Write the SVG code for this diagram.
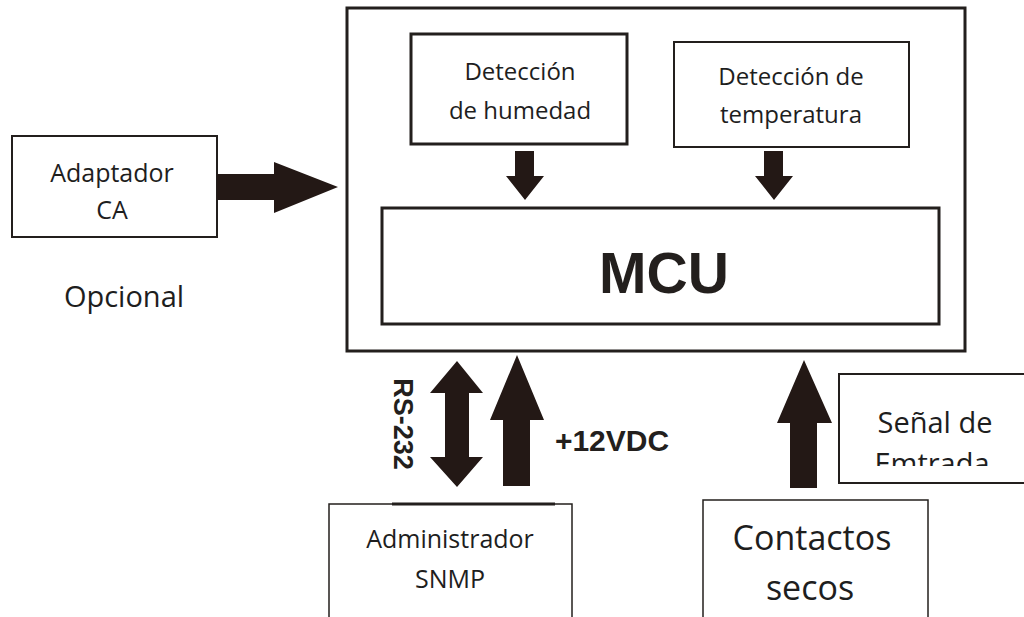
<svg xmlns="http://www.w3.org/2000/svg" width="1024" height="617" viewBox="0 0 1024 617">
<defs>
<style>
.box{fill:#fff;stroke:#231f1d;stroke-width:2}
.t{font-family:"Open Sans","DejaVu Sans",sans-serif;fill:#1e1e1e;text-anchor:middle}
.b{font-family:"Liberation Sans",Arial,sans-serif;font-weight:bold;fill:#231f1d;text-anchor:middle}
.arr{fill:#231815}
</style>
<clipPath id="clipEm"><rect x="830" y="370" width="200" height="96"/></clipPath>
</defs>
<rect width="1024" height="617" fill="#fff"/>

<g id="outer">
<rect x="347" y="8" width="618" height="343" class="box" style="stroke-width:3"/>
</g>

<g id="humedad">
<rect x="411" y="34" width="216" height="110" class="box" style="stroke-width:3"/>
<text class="t" x="520" y="80" font-size="24">Detección</text>
<text class="t" x="520" y="119" font-size="24">de humedad</text>
</g>

<g id="temperatura">
<rect x="674" y="42" width="235" height="105" class="box"/>
<text class="t" x="791" y="85" font-size="24">Detección de</text>
<text class="t" x="791" y="123" font-size="24">temperatura</text>
</g>

<g id="mcu">
<rect x="382" y="208" width="557" height="116" class="box" style="stroke-width:3"/>
<text class="b" x="664" y="293" font-size="57">MCU</text>
</g>

<g id="adaptador">
<rect x="12" y="136" width="205" height="101" class="box"/>
<text class="t" x="112" y="182" font-size="25">Adaptador</text>
<text class="t" x="112" y="219" font-size="25">CA</text>
</g>

<g id="opcional">
<text class="t" x="124" y="307" font-size="29">Opcional</text>
</g>

<g id="snmp">
<rect x="329" y="504" width="243" height="130" class="box" style="stroke-width:1.5"/>
<line x1="392" y1="504" x2="555" y2="504" stroke="#231f1d" stroke-width="3"/>
<text class="t" x="450" y="548" font-size="25">Administrador</text>
<text class="t" x="450" y="588" font-size="25">SNMP</text>
</g>

<g id="contactos">
<rect x="703" y="500" width="225" height="130" class="box" style="stroke-width:1.5"/>
<text class="t" x="812" y="550" font-size="34">Contactos</text>
<text class="t" x="810" y="600" font-size="34">secos</text>
</g>

<g id="senal">
<rect x="839" y="374" width="200" height="109" class="box"/>
<text class="t" x="935" y="433" font-size="29">Señal de</text>
<text class="t" x="932" y="474" font-size="29" clip-path="url(#clipEm)">Emtrada</text>
</g>

<g id="connectors">
<polygon class="arr" points="217,174 274,174 274,162 338,187 274,213 274,200 217,200"/>
<polygon class="arr" points="515,151 534,151 534,176 544,176 525,200 506,176 515,176"/>
<polygon class="arr" points="764,151 783,151 783,176 793,176 774,200 755,176 764,176"/>
<polygon class="arr" points="457,361 483,393 469,393 469,457 483,457 457,487 430,457 445,457 445,393 430,393"/>
<polygon class="arr" points="517,355 544,420 530,420 530,486 503,486 503,420 490,420"/>
<polygon class="arr" points="804,360 832,423 817,423 817,488 790,488 790,423 777,423"/>
<text class="b" font-size="27" transform="translate(394,424) rotate(90)" x="0" y="0">RS-232</text>
<text class="b" x="612" y="451" font-size="30">+12VDC</text>
</g>
</svg>
